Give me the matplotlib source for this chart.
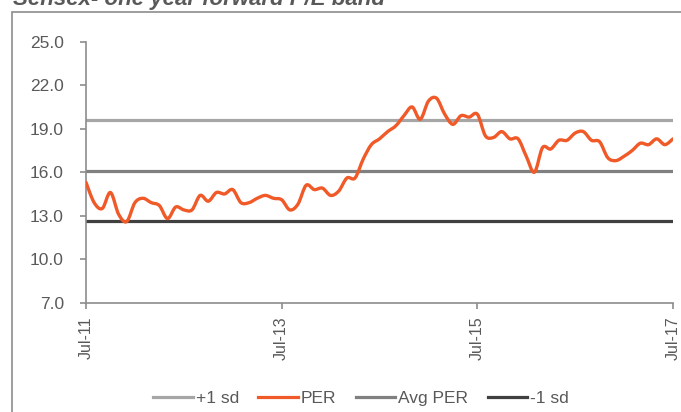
import matplotlib.pyplot as plt
from matplotlib.path import Path
from matplotlib.patches import PathPatch, Rectangle
from matplotlib.lines import Line2D
import numpy as np

plt.rcParams['font.family'] = ['Liberation Sans', 'DejaVu Sans']

# monthly one-year-forward PER, Jul-11 .. Jul-17
per = [
    15.3, 13.9, 13.5, 14.6, 13.1, 12.6, 13.9, 14.2, 13.9, 13.7,
    12.8, 13.6, 13.4, 13.4, 14.4, 14.0, 14.6, 14.5, 14.8, 13.9,
    13.9, 14.2, 14.4, 14.2, 14.1, 13.4, 13.8, 15.1, 14.8, 14.9,
    14.4, 14.7, 15.6, 15.6, 16.9, 17.9, 18.3, 18.8, 19.2, 19.9,
    20.5, 19.65, 20.9, 21.1, 20.0, 19.3, 19.9, 19.8, 20.0, 18.5,
    18.4, 18.8, 18.3, 18.3, 17.1, 16.0, 17.7, 17.6, 18.2, 18.2,
    18.7, 18.8, 18.2, 18.1, 17.0, 16.8, 17.1, 17.5, 18.0, 17.9,
    18.3, 17.9, 18.3,
]
avg_per = 16.1
plus_sd = 19.6
minus_sd = 12.65

tick_months = [0, 24, 48, 72]
tick_labels = ['Jul-11', 'Jul-13', 'Jul-15', 'Jul-17']
y_ticks = [7, 10, 13, 16, 19, 22, 25]

c_plus = '#a6a6a6'
c_per = '#f05a28'
c_avg = '#808080'
c_minus = '#404040'
c_text = '#595959'
c_axis = '#8c8c8c'

fig = plt.figure(figsize=(6.81, 4.12), dpi=100)
W, H = 681, 412
ax = fig.add_axes([86 / W, 1 - 302.7 / H, (673 - 86) / W, (302.7 - 41.7) / H])

x = np.arange(len(per))
ax.axhline(plus_sd, color=c_plus, lw=2.3, zorder=2)
ax.axhline(avg_per, color=c_avg, lw=2.3, zorder=2)
ax.axhline(minus_sd, color=c_minus, lw=2.3, zorder=2)

# smoothed PER line (cubic bezier through the monthly points)
pts = np.column_stack([x, per]).astype(float)
verts = [pts[0]]
codes = [Path.MOVETO]
n = len(pts)
for i in range(n - 1):
    p0 = pts[max(i - 1, 0)]
    p1 = pts[i]
    p2 = pts[i + 1]
    p3 = pts[min(i + 2, n - 1)]
    verts += [p1 + (p2 - p0) / 6, p2 - (p3 - p1) / 6, p2]
    codes += [Path.CURVE4] * 3
ax.add_patch(PathPatch(Path(verts, codes), fill=False, edgecolor=c_per,
                       lw=2.4, capstyle='round', joinstyle='round', zorder=3))

ax.set_xlim(0, 72)
ax.set_ylim(7, 25)
ax.set_yticks(y_ticks)
ax.set_yticklabels([f'{v:.1f}' for v in y_ticks])
ax.set_xticks(tick_months)
ax.set_xticklabels(tick_labels, rotation=90)

for s in ['top', 'right']:
    ax.spines[s].set_visible(False)
for s in ['left', 'bottom']:
    ax.spines[s].set_color(c_axis)
    ax.spines[s].set_linewidth(1.2)
ax.tick_params(axis='y', direction='out', length=4, width=1.2, color=c_axis,
               labelcolor=c_text, labelsize=12.5, pad=12)
ax.tick_params(axis='x', direction='out', length=4, width=1.2, color=c_axis,
               labelcolor=c_text, labelsize=11.5, pad=6)

handles = [
    Line2D([], [], color=c_plus, lw=2.3),
    Line2D([], [], color=c_per, lw=2.3),
    Line2D([], [], color=c_avg, lw=2.3),
    Line2D([], [], color=c_minus, lw=2.3),
]
fig.legend(handles, ['+1 sd', 'PER', 'Avg PER', '-1 sd'], loc='center',
           bbox_to_anchor=(361 / W, 1 - 398 / H), ncol=4, frameon=False,
           fontsize=12.5, labelcolor=c_text, handlelength=2.3,
           handletextpad=0.17, columnspacing=1.1)

# outer chart frame, running off the right and bottom edges
fig.patches.append(Rectangle((12 / W, -0.1), 1.2, 0.1 + (H - 12) / H,
                             transform=fig.transFigure, fill=False,
                             edgecolor=c_axis, lw=1.2))

fig.text(13 / W, 1 - 5 / H, 'Sensex- one year forward P/E band',
         fontsize=16, fontweight='bold', fontstyle='italic', color=c_text,
         va='baseline', ha='left')

fig.savefig('out.png', dpi=100)
